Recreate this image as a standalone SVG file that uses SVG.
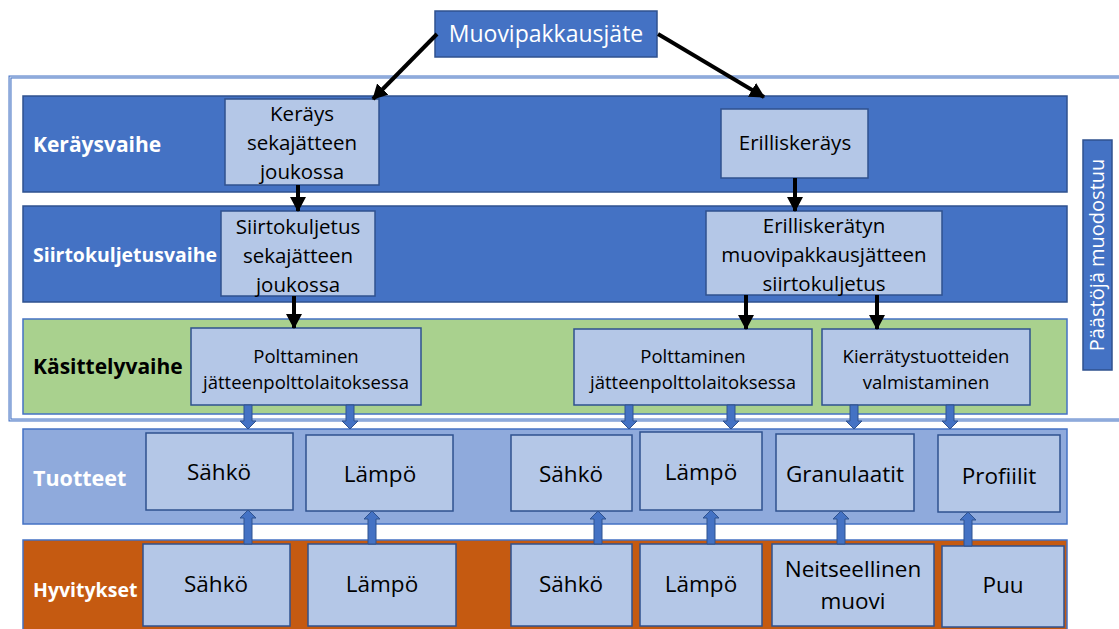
<svg xmlns="http://www.w3.org/2000/svg" width="1119" height="629" viewBox="0 0 1119 629">
<style>
.band{stroke:#2F528F;stroke-width:1.5}
.blue{fill:#4472C4}
.green{fill:#A9D18E;stroke:#4472C4}
.prod{fill:#8FAADC;stroke:#4472C4}
.comp{fill:#C55A11;stroke:#4472C4}
.node{fill:#B4C7E7;stroke:#2F528F;stroke-width:1.5}
.t{font-family:"Open Sans","Liberation Sans",sans-serif;text-anchor:middle;fill:#000}
.lab{font-family:"Open Sans","Liberation Sans",sans-serif;font-weight:bold}
.blk{stroke:#000;stroke-width:4;fill:none}
.barr{fill:#4472C4;stroke:#2F528F;stroke-width:1}
</style>
<defs>
<marker id="ah" markerUnits="userSpaceOnUse" markerWidth="16" markerHeight="16" refX="14" refY="8" orient="auto">
<path d="M0,0 L15,8 L0,16 Z" fill="#000"/>
</marker>
</defs>
<rect width="1119" height="629" fill="#fff"/>

<g id="frame">
<rect x="10" y="77" width="1125" height="343" fill="none" stroke="#4472C4" stroke-width="3"/>
<rect x="10" y="77" width="1125" height="343" fill="none" stroke="#fff" stroke-width="0.8"/>
</g>

<g id="bands">
<g id="band-kerays"><rect class="band blue" x="23" y="96" width="1044" height="96"/>
<text class="lab" x="33" y="152" font-size="21" fill="#fff">Keräysvaihe</text></g>
<g id="band-siirto"><rect class="band blue" x="23" y="206" width="1044" height="96"/>
<text class="lab" x="33" y="262" font-size="20" fill="#fff" textLength="184" lengthAdjust="spacingAndGlyphs">Siirtokuljetusvaihe</text></g>
<g id="band-kasittely"><rect class="band green" x="23" y="319" width="1044" height="95"/>
<text class="lab" x="33" y="374" font-size="21" fill="#000">Käsittelyvaihe</text></g>
<g id="band-tuotteet"><rect class="band prod" x="23" y="429" width="1044" height="95"/>
<text class="lab" x="33" y="486" font-size="21.5" fill="#fff">Tuotteet</text></g>
<g id="band-hyvitykset"><rect class="band comp" x="23" y="540" width="1044" height="95"/>
<text class="lab" x="33" y="597" font-size="19.5" fill="#fff">Hyvitykset</text></g>
</g>

<g id="paastot">
<rect x="1083" y="140" width="29" height="230" fill="#4472C4" stroke="#2F528F" stroke-width="1.5"/>
<text class="t" transform="translate(1104,255) rotate(-90)" font-size="20" style="fill:#fff">Päästöjä muodostuu</text>
</g>

<g id="n-muovi">
<rect x="435" y="11" width="222" height="46" fill="#4472C4" stroke="#2F528F" stroke-width="1.5"/>
<text class="t" x="546" y="42" font-size="23" style="fill:#fff">Muovipakkausjäte</text>
</g>

<g id="n-kerays-seka"><rect class="node" x="225" y="99" width="154" height="86"/>
<text class="t" font-size="20.5"><tspan x="302" y="121">Keräys</tspan><tspan x="302" y="150">sekajätteen</tspan><tspan x="302" y="179">joukossa</tspan></text></g>
<g id="n-erilliskerays"><rect class="node" x="721" y="109" width="147" height="69"/>
<text class="t" x="795" y="150" font-size="20.5">Erilliskeräys</text></g>
<g id="n-siirto-seka"><rect class="node" x="221" y="211" width="154" height="85"/>
<text class="t" font-size="20.5"><tspan x="298" y="234">Siirtokuljetus</tspan><tspan x="298" y="263">sekajätteen</tspan><tspan x="298" y="292">joukossa</tspan></text></g>
<g id="n-siirto-eri"><rect class="node" x="706" y="211" width="236" height="84"/>
<text class="t" font-size="20.5"><tspan x="824" y="233">Erilliskerätyn</tspan><tspan x="824" y="262">muovipakkausjätteen</tspan><tspan x="824" y="291">siirtokuljetus</tspan></text></g>

<g id="n-poltto1"><rect class="node" x="191" y="328" width="230" height="77"/>
<text class="t" font-size="18.5"><tspan x="306" y="363">Polttaminen</tspan><tspan x="306" y="389">jätteenpolttolaitoksessa</tspan></text></g>
<g id="n-poltto2"><rect class="node" x="574" y="329" width="238" height="76"/>
<text class="t" font-size="18.5"><tspan x="693" y="363">Polttaminen</tspan><tspan x="693" y="389">jätteenpolttolaitoksessa</tspan></text></g>
<g id="n-kierratys"><rect class="node" x="822" y="329" width="208" height="76"/>
<text class="t" font-size="18.5"><tspan x="926" y="363">Kierrätystuotteiden</tspan><tspan x="926" y="389">valmistaminen</tspan></text></g>

<g id="n-t-sahko1"><rect class="node" x="146" y="433" width="147" height="77"/><text class="t" x="219" y="480" font-size="22.5">Sähkö</text></g>
<g id="n-t-lampo1"><rect class="node" x="306" y="435" width="147" height="76"/><text class="t" x="380" y="482" font-size="22.5">Lämpö</text></g>
<g id="n-t-sahko2"><rect class="node" x="511" y="435" width="121" height="76"/><text class="t" x="571" y="482" font-size="22.5">Sähkö</text></g>
<g id="n-t-lampo2"><rect class="node" x="640" y="432" width="122" height="78"/><text class="t" x="701" y="480" font-size="22.5">Lämpö</text></g>
<g id="n-t-granu"><rect class="node" x="776" y="434" width="138" height="77"/><text class="t" x="845" y="482" font-size="22.5">Granulaatit</text></g>
<g id="n-t-profiilit"><rect class="node" x="938" y="435" width="122" height="77"/><text class="t" x="999" y="484" font-size="22.5">Profiilit</text></g>

<g id="n-h-sahko1"><rect class="node" x="143" y="544" width="147" height="82"/><text class="t" x="216" y="592" font-size="22.5">Sähkö</text></g>
<g id="n-h-lampo1"><rect class="node" x="308" y="544" width="148" height="82"/><text class="t" x="382" y="592" font-size="22.5">Lämpö</text></g>
<g id="n-h-sahko2"><rect class="node" x="511" y="544" width="121" height="82"/><text class="t" x="571" y="592" font-size="22.5">Sähkö</text></g>
<g id="n-h-lampo2"><rect class="node" x="640" y="544" width="122" height="82"/><text class="t" x="701" y="592" font-size="22.5">Lämpö</text></g>
<g id="n-h-neitseel"><rect class="node" x="772" y="544" width="162" height="82"/><text class="t" font-size="22.5"><tspan x="853" y="577">Neitseellinen</tspan><tspan x="853" y="609">muovi</tspan></text></g>
<g id="n-h-puu"><rect class="node" x="942" y="546" width="122" height="81"/><text class="t" x="1003" y="593" font-size="22.5">Puu</text></g>

<g id="connectors">
<line class="blk" x1="437" y1="34" x2="373" y2="99" marker-end="url(#ah)"/>
<line class="blk" x1="658" y1="34" x2="764" y2="97" marker-end="url(#ah)"/>
<line class="blk" x1="298" y1="185" x2="298" y2="211" marker-end="url(#ah)"/>
<line class="blk" x1="795" y1="178" x2="795" y2="211" marker-end="url(#ah)"/>
<line class="blk" x1="294" y1="296" x2="294" y2="328" marker-end="url(#ah)"/>
<line class="blk" x1="746" y1="295" x2="746" y2="329" marker-end="url(#ah)"/>
<line class="blk" x1="877" y1="295" x2="877" y2="329" marker-end="url(#ah)"/>

<polygon class="barr" points="244,405 252,405 252,421 256,421 248,429 240,421 244,421"/>
<polygon class="barr" points="346,405 354,405 354,421 358,421 350,429 342,421 346,421"/>
<polygon class="barr" points="625,405 633,405 633,421 637,421 629,429 621,421 625,421"/>
<polygon class="barr" points="727,405 735,405 735,421 739,421 731,429 723,421 727,421"/>
<polygon class="barr" points="850,405 858,405 858,421 862,421 854,429 846,421 850,421"/>
<polygon class="barr" points="946,405 954,405 954,421 958,421 950,429 942,421 946,421"/>

<polygon class="barr" points="244,544 252,544 252,518 256,518 248,510 240,518 244,518"/>
<polygon class="barr" points="368,544 376,544 376,519 380,519 372,511 364,519 368,519"/>
<polygon class="barr" points="594,544 602,544 602,519 606,519 598,511 590,519 594,519"/>
<polygon class="barr" points="707,544 715,544 715,518 719,518 711,510 703,518 707,518"/>
<polygon class="barr" points="837,544 845,544 845,519 849,519 841,511 833,519 837,519"/>
<polygon class="barr" points="964,546 972,546 972,520 976,520 968,512 960,520 964,520"/>
</g>
</svg>
